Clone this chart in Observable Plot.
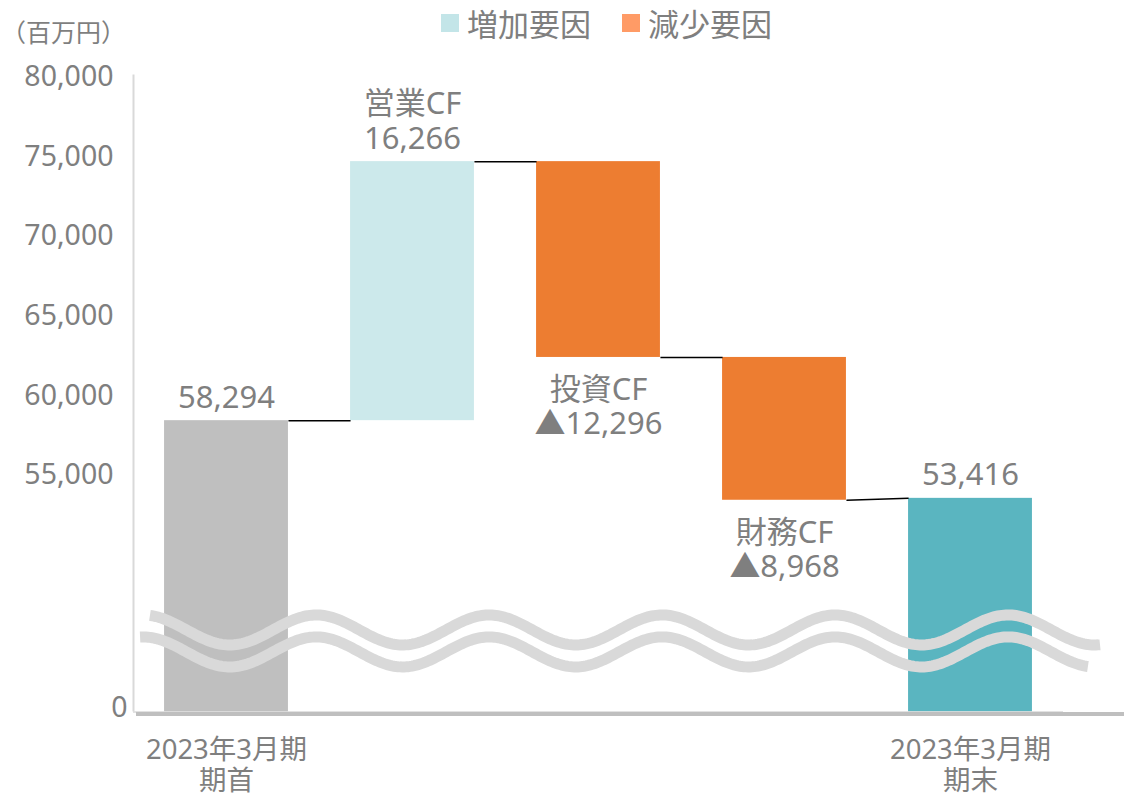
<!DOCTYPE html>
<html><head><meta charset="utf-8">
<script src="https://cdn.jsdelivr.net/npm/d3@7"></script>
<script src="https://cdn.jsdelivr.net/npm/@observablehq/plot@0.6"></script>
<style>
body{margin:0;background:#fff;font-family:"Noto Sans","Noto Sans CJK JP",sans-serif;}
#wrap{position:relative;width:1124px;height:796px;overflow:hidden;}
#wrap svg{position:absolute;left:0;top:0;}
#unit{position:absolute;left:1px;top:19px;font-size:25px;line-height:25px;color:#7f7f7f;font-family:"Noto Sans CJK JP",sans-serif;}
#legend{position:absolute;top:7px;left:441px;display:flex;align-items:center;font-size:31px;line-height:31px;color:#7f7f7f;font-family:"Noto Sans CJK JP",sans-serif;}
#legend .sw{display:inline-block;width:18px;height:18px;margin-right:8px;}
#legend .item{display:flex;align-items:center;margin-right:31px;}
</style></head><body><div id="wrap"></div>
<script>
// ---- data ----
const categories = ["2023年3月期期首", "営業CF", "投資CF", "財務CF", "2023年3月期期末"];
const kinds = ["start", "increase", "decrease", "decrease", "end"];
const values = [58294, 16266, -12296, -8968, 53416];
const valueLabels = ["58,294", "営業CF\n16,266", "投資CF\n▲12,296", "財務CF\n▲8,968", "53,416"];
const xTickLabels = ["2023年3月期\n期首", "", "", "", "2023年3月期\n期末"];
const yTicks = [55000, 60000, 65000, 70000, 75000, 80000];
const legendItems = ["増加要因", "減少要因"];
const legendColors = ["#c3e5e8", "#ff9b66"];
const kindDomain = ["start", "increase", "decrease", "end"];
const kindColors = ["#bfbfbf", "#cce9eb", "#ed7d31", "#5ab5c0"];
const unitLabel = "（百万円）";
const yFloor = 40000; // axis break: bottom of the chart stands for 0

// ---- build waterfall rows ----
let run = 0;
const rows = categories.map((c, i) => {
  const k = kinds[i], v = values[i];
  let y1, y2;
  if (k === "start" || k === "end") { y1 = yFloor; y2 = v; run = v; }
  else { const prev = run; run = prev + v; y1 = Math.min(prev, run); y2 = Math.max(prev, run); }
  return {i, cat: c, kind: k, y1, y2, level: run, label: valueLabels[i]};
});
const links = rows.slice(0, -1).map((r, i) => {
  const nx = rows[i + 1];
  return {i, from: r.level, to: nx.kind === "end" ? nx.y2 : r.level};
});
const hw = 0.333; // half bar width in band units

// ---- axis-break wave (decoration) ----
function breakWave(index, scales, values, dimensions) {
  const {x, y} = scales;
  const step = x(1) - x(0);
  const g = d3.create("svg:g").attr("fill", "none").attr("stroke", "#d9d9d9").attr("stroke-width", 11);
  const period = 0.93 * step, amp = 15;
  const phase = x(0) + 0.02 * step;
  const specs = [
    {x0: x(-0.409), x1: x(4.699), cy: y(45120)},
    {x0: x(-0.462), x1: x(4.634), cy: y(43740)}
  ];
  for (const s of specs) {
    const pts = d3.range(s.x0, s.x1, 2).concat([s.x1]).map(px => [px, s.cy + amp * Math.cos(2 * Math.PI * (px - phase) / period)]);
    g.append("path").attr("d", d3.line()(pts));
  }
  return g.node();
}

const font = "'Noto Sans','Noto Sans CJK JP',sans-serif";
const textGray = "#7f7f7f";

const chart = Plot.plot({
  width: 1124,
  height: 796,
  marginLeft: 133,
  marginRight: 61,
  marginTop: 74.5,
  marginBottom: 84.5,
  style: {fontFamily: font, background: "transparent", color: textGray},
  x: {type: "linear", domain: [-0.5, 4.5]},
  y: {domain: [yFloor, 80000]},
  color: {domain: kindDomain, range: kindColors},
  marks: [
    Plot.rectY(rows, {x1: d => d.i - hw, x2: d => d.i + hw, y1: "y1", y2: "y2", fill: "kind"}),
    Plot.link(links, {x1: d => d.i + hw, x2: d => d.i + 1 - hw, y1: "from", y2: "to", stroke: "#000", strokeWidth: 1.5}),
    Plot.text(rows, {filter: d => d.kind !== "decrease", x: "i", y: "y2", text: "label", lineAnchor: "bottom", dy: -13, fontSize: 31, lineHeight: 1.12, fill: textGray}),
    Plot.text(rows, {filter: d => d.kind === "decrease", x: "i", y: "y1", text: "label", lineAnchor: "top", dy: 19, fontSize: 31, lineHeight: 1.08, fill: textGray}),
    breakWave,
    Plot.ruleY([yFloor], {stroke: "#d9d9d9", strokeWidth: 1.5}),
    Plot.ruleY([yFloor], {stroke: "#bfbfbf", strokeWidth: 4, dy: 2, insetLeft: 3, insetRight: -61}),
    Plot.ruleX([-0.5], {stroke: "#d9d9d9", strokeWidth: 2}),
    Plot.axisY({ticks: yTicks, tickFormat: d => d3.format(",")(d), tickSize: 0, tickPadding: 20, fontSize: 28.5, dy: 2, fill: textGray, label: null}),
    Plot.axisY({ticks: [yFloor], tickFormat: () => "0", tickSize: 0, tickPadding: 6, fontSize: 28.5, dy: -4, fill: textGray, label: null}),
    Plot.axisX({ticks: [0, 4], tickFormat: d => xTickLabels[d], tickSize: 0, tickPadding: 26, fontSize: 27.5, lineHeight: 1.1, fill: textGray, label: null})
  ]
});

const wrap = document.getElementById("wrap");
wrap.appendChild(chart);
const unit = document.createElement("div");
unit.id = "unit"; unit.textContent = unitLabel;
wrap.appendChild(unit);
const legend = document.createElement("div");
legend.id = "legend";
legendItems.forEach((t, i) => {
  const it = document.createElement("span"); it.className = "item";
  const sw = document.createElement("span"); sw.className = "sw"; sw.style.background = legendColors[i];
  const tx = document.createElement("span"); tx.textContent = t;
  it.appendChild(sw); it.appendChild(tx); legend.appendChild(it);
});
wrap.appendChild(legend);
</script>
</body></html>
